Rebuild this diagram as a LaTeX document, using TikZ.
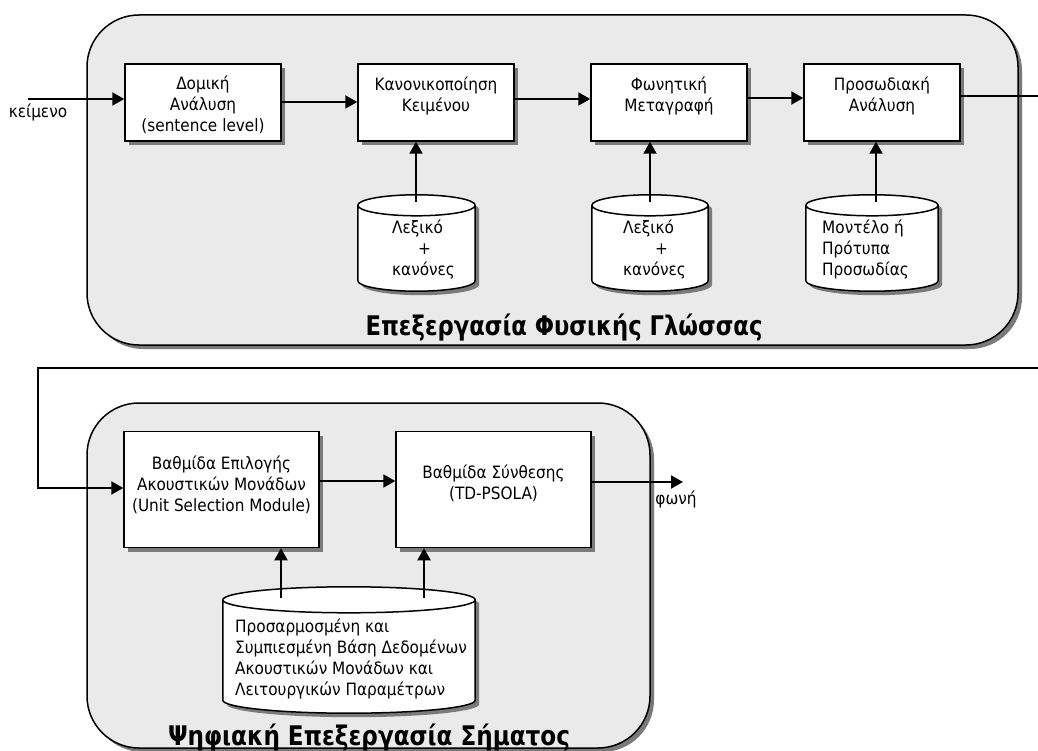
\documentclass[tikz,border=0pt]{standalone}
\usepackage{fontspec}
\usepackage{graphicx}
\setmainfont{DejaVu Sans Condensed}
\usetikzlibrary{arrows.meta,calc,shadows}

\definecolor{panelgray}{HTML}{EAEAEA}
\definecolor{shadowgray}{HTML}{7A7A7A}

% cylinder outline around a named (invisible) node; #2 = ellipse half-height in pt
\newcommand\cylinderat[2]{%
  \path[cylbody] let \p1=(#1.north west), \p2=(#1.south east), \n1={(\x2-\x1)/2} in
    (\x1,{\y1-#2pt}) -- (\x1,{\y2+#2pt})
    arc[start angle=180, end angle=360, x radius=\n1, y radius=#2pt]
    -- (\x2,{\y1-#2pt})
    arc[start angle=0, end angle=180, x radius=\n1, y radius=#2pt] -- cycle
    (\x1,{\y1-#2pt}) arc[start angle=180, end angle=360, x radius=\n1, y radius=#2pt];
}
% stage heading set to a given width
\newcommand\stagehead[2]{\resizebox{#1}{\height}{#2}}

\begin{document}
\begin{tikzpicture}[x=1pt,y=1pt,
  shadowed/.style={drop shadow={shadow xshift=4pt, shadow yshift=-4pt, fill=shadowgray, opacity=1}},
  panel/.style={draw, line width=1.5pt, fill=panelgray, rounded corners=52pt, inner sep=0pt, shadowed},
  box/.style={draw, line width=1.5pt, fill=white, inner sep=0pt, shadowed},
  cylbody/.style={draw, line width=1.5pt, fill=white, shadowed},
  hole/.style={inner sep=0pt},
  txt/.style={inner sep=0pt, font=\fontsize{17}{21}\selectfont, execute at begin node=\strut},
  lbl/.style={inner sep=0pt, font=\fontsize{17}{21}\selectfont},
  title/.style={inner sep=0pt, font=\fontsize{27}{32}\bfseries\selectfont},
  arr/.style={line width=2pt, -{Triangle[length=12pt,width=13pt]}},
  wire/.style={line width=1.5pt},
]
\useasboundingbox (0,0) rectangle (1038,-751);

% ---- natural language processing stage ----
\node[panel, minimum width=931pt, minimum height=330pt] (nlp) at (552.5,-180) {};
\node[title, anchor=base] (nlpt) at (564,-335) {\stagehead{397pt}{Επεξεργασία Φυσικής Γλώσσας}};

\node[box, minimum width=156pt, minimum height=77pt] (b1) at (203,-102.5) {};
\node[box, minimum width=156pt, minimum height=77pt] (b2) at (436,-102.5) {};
\node[box, minimum width=156pt, minimum height=77pt] (b3) at (669,-102.5) {};
\node[box, minimum width=156pt, minimum height=77pt] (b4) at (882,-102.5) {};
\node[txt, anchor=north, align=center] (b1t) at (203,-75.5) {Δομική\\Ανάλυση\\(sentence level)};
\node[txt, anchor=north, align=center] (b2t) at (436,-76.5) {Κανονικοποίηση\\Κειμένου};
\node[txt, anchor=north, align=center] (b3t) at (669,-76.5) {Φωνητική\\Μεταγραφή};
\node[txt, anchor=north, align=center] (b4t) at (882,-76.5) {Προσωδιακή\\Ανάλυση};

\node[hole, minimum width=117pt, minimum height=96pt] (c1) at (416.5,-243) {};
\node[hole, minimum width=116pt, minimum height=96pt] (c2) at (650,-243) {};
\node[hole, minimum width=132pt, minimum height=96pt] (c3) at (872,-243) {};
\cylinderat{c1}{10.5}
\cylinderat{c2}{10.5}
\cylinderat{c3}{10.5}
\node[txt, anchor=north west, align=left] (c1t) at (392,-219.5) {Λεξικό\\\hspace*{26pt}+\\κανόνες};
\node[txt, anchor=north west, align=left] (c2t) at (623,-219.5) {Λεξικό\\\hspace*{32pt}+\\κανόνες};
\node[txt, anchor=north west, align=left] (c3t) at (822,-219.5) {Μοντέλο ή\\Πρότυπα\\Προσωδίας};

% ---- signal processing stage ----
\node[panel, minimum width=563pt, minimum height=345pt] (dsp) at (368.5,-575.5) {};
\node[title, anchor=base] (dspt) at (369,-745) {\stagehead{402pt}{Ψηφιακή Επεξεργασία Σήματος}};

\node[box, minimum width=195pt, minimum height=116pt] (b5) at (221.5,-489.5) {};
\node[box, minimum width=195pt, minimum height=116pt] (b6) at (493.5,-489.5) {};
\node[txt, anchor=north, align=center] (b5t) at (221.5,-455.5) {Βαθμίδα Επιλογής\\Ακουστικών Μονάδων\\(Unit Selection Module)};
\node[txt, anchor=north, align=center] (b6t) at (493.5,-464.5) {Βαθμίδα Σύνθεσης\\(TD-PSOLA)};

\node[hole, minimum width=252pt, minimum height=126pt] (c4) at (349,-650) {};
\cylinderat{c4}{13}
\node[txt, anchor=north west, align=left] (c4t) at (235,-619) {Προσαρμοσμένη και\\Συμπιεσμένη Βάση Δεδομένων\\Ακουστικών Μονάδων και\\Λειτουργικών Παραμέτρων};

% ---- connectors ----
\coordinate (in) at (28,-99);
\coordinate (outR) at (1038,-96);
\coordinate (retR) at (1038,-368);
\coordinate (retL) at (38,-368);
\coordinate (b5in) at ([yshift=1.5pt]b5.west);
\coordinate (outV) at (683,-482);
\coordinate (c1a) at ([xshift=-0.5pt,yshift=-7pt]c1.north);
\coordinate (c2a) at ([yshift=-7pt]c2.north);
\coordinate (c3a) at ([xshift=4pt,yshift=-7pt]c3.north);
\coordinate (c4a) at (281,-598);
\coordinate (c4b) at (424,-598);

\node[lbl] (inl) at (38,-112) {κείμενο};
\node[lbl] (outl) at (676,-499) {φωνή};

\draw[arr] (in) -- ([yshift=3.5pt]b1.west);
\draw[arr] ([yshift=0.5pt]b1.east) -- ([yshift=0.5pt]b2.west);
\draw[arr] ([yshift=3.5pt]b2.east) -- ([yshift=3.5pt]b3.west);
\draw[arr] ([yshift=4.5pt]b3.east) -- ([yshift=4.5pt]b4.west);
\draw[wire] ([yshift=6.5pt]b4.east) -- (outR);

\draw[arr] (c1a) -- (c1a |- b2.south);
\draw[arr] (c2a) -- (c2a |- b3.south);
\draw[arr] (c3a) -- (c3a |- b4.south);

\draw[wire] (retR) -- (retL) -- (retL |- b5in);
\draw[arr] ([xshift=-1pt]retL |- b5in) -- (b5in);
\draw[arr] ([yshift=8.5pt]b5.east) -- ([yshift=8.5pt]b6.west);
\draw[arr] ([yshift=7.5pt]b6.east) -- (outV);

\draw[arr] (c4a) -- (c4a |- b5.south);
\draw[arr] (c4b) -- (c4b |- b6.south);
\end{tikzpicture}
\end{document}
